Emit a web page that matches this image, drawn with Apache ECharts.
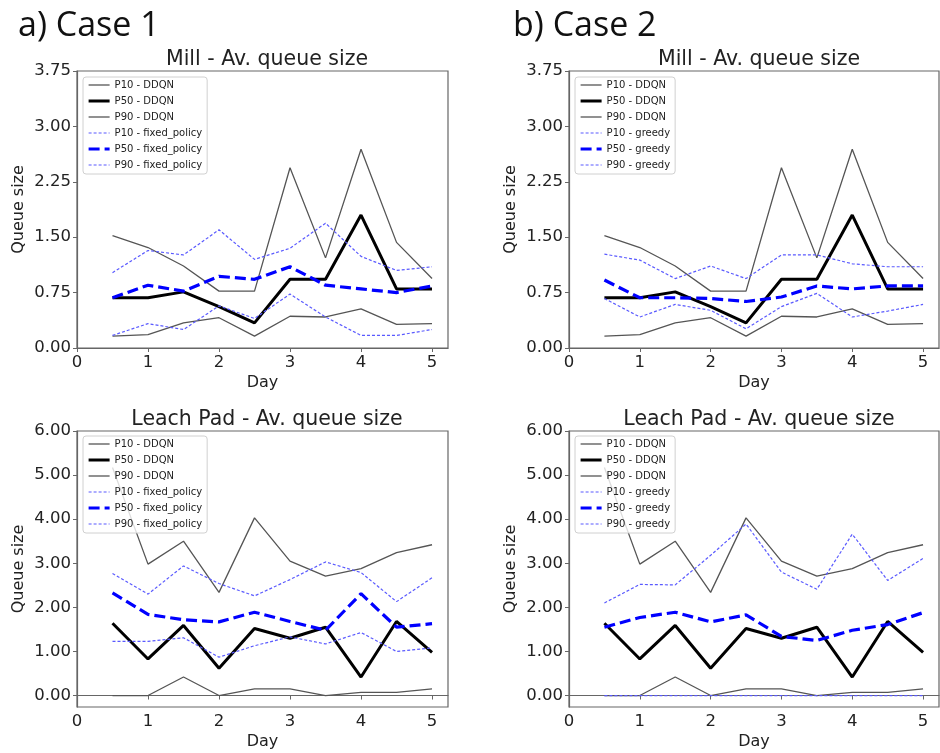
<!DOCTYPE html>
<html>
<head>
<meta charset="utf-8">
<title>Queue size</title>
<script src="https://cdn.jsdelivr.net/npm/echarts@6/dist/echarts.min.js"></script>
<style>
  html, body { margin: 0; padding: 0; background: #fff; }
  #main { width: 940px; height: 753px; }
</style>
</head>
<body>
<div id="main"></div>
<script>
// x positions (days)
var days = [0.5, 1, 1.5, 2, 2.5, 3, 3.5, 4, 4.5, 5];
var xTicks = [0, 1, 2, 3, 4, 5];
var leachTicks = [0, 1, 2, 3, 4, 5, 6];

// Mill - DDQN (same in both cases)
var millP10Ddqn = [0.16, 0.18, 0.34, 0.41, 0.16, 0.43, 0.42, 0.53, 0.32, 0.33];
var millP50Ddqn = [0.68, 0.68, 0.76, 0.56, 0.34, 0.93, 0.93, 1.80, 0.80, 0.80];
var millP90Ddqn = [1.52, 1.36, 1.11, 0.77, 0.77, 2.44, 1.22, 2.69, 1.43, 0.94];
// Mill - fixed policy (case 1)
var millP10Fixed = [0.17, 0.33, 0.25, 0.57, 0.40, 0.73, 0.42, 0.17, 0.17, 0.25];
var millP50Fixed = [0.68, 0.85, 0.77, 0.97, 0.93, 1.10, 0.85, 0.80, 0.75, 0.84];
var millP90Fixed = [1.02, 1.32, 1.26, 1.60, 1.20, 1.35, 1.69, 1.24, 1.05, 1.10];
// Mill - greedy (case 2)
var millP10Greedy = [0.67, 0.42, 0.59, 0.51, 0.26, 0.56, 0.74, 0.42, 0.50, 0.59];
var millP50Greedy = [0.92, 0.68, 0.68, 0.67, 0.63, 0.69, 0.84, 0.80, 0.84, 0.84];
var millP90Greedy = [1.27, 1.19, 0.94, 1.11, 0.94, 1.26, 1.26, 1.14, 1.10, 1.10];

// Leach pad - DDQN
var leachP10Ddqn = [0.00, 0.00, 0.42, 0.00, 0.15, 0.15, 0.00, 0.07, 0.07, 0.15];
var leachP50Ddqn = [1.64, 0.83, 1.59, 0.62, 1.52, 1.30, 1.55, 0.42, 1.68, 0.98];
var leachP90Ddqn = [5.17, 2.98, 3.50, 2.34, 4.03, 3.05, 2.71, 2.88, 3.24, 3.42];
// Leach pad - fixed policy
var leachP10Fixed = [1.23, 1.23, 1.31, 0.87, 1.13, 1.33, 1.17, 1.43, 1.00, 1.08];
var leachP50Fixed = [2.33, 1.84, 1.72, 1.67, 1.89, 1.68, 1.48, 2.31, 1.55, 1.63];
var leachP90Fixed = [2.77, 2.30, 2.94, 2.54, 2.26, 2.63, 3.03, 2.79, 2.13, 2.67];
// Leach pad - greedy
var leachP10Greedy = [0, 0, 0, 0, 0, 0, 0, 0, 0, 0];
var leachP50Greedy = [1.55, 1.77, 1.89, 1.67, 1.83, 1.34, 1.25, 1.48, 1.61, 1.88];
var leachP90Greedy = [2.10, 2.52, 2.51, 3.18, 3.89, 2.80, 2.41, 3.66, 2.61, 3.11];

var FONT = 'DejaVu Sans';
var grids = [
    {left: 77, top: 71, width: 371, height: 277},
    {left: 569, top: 71, width: 370, height: 277},
    {left: 77, top: 431, width: 371, height: 276},
    {left: 569, top: 431, width: 370, height: 276}
];

function pairs(arr) {
    return days.map(function (d, i) { return [d, arr[i]]; });
}

var styles = {
    ddqnThin: {color: '#555555', width: 1.3, type: 'solid'},
    ddqnMid: {color: '#000000', width: 3, type: 'solid'},
    polThin: {color: '#5a5aff', width: 1.2, type: [3, 2]},
    polMid: {color: '#0000ff', width: 3.2, type: [11, 5]}
};
var styleOrder = [styles.ddqnThin, styles.ddqnMid, styles.ddqnThin, styles.polThin, styles.polMid, styles.polThin];

function makeSeries(idx, name, arr, st) {
    return {
        name: name, type: 'line', xAxisIndex: idx, yAxisIndex: idx,
        data: pairs(arr), symbol: 'circle', showSymbol: false, silent: true,
        lineStyle: st, itemStyle: {color: st.color}
    };
}

function names(tag) {
    return ['P10 - DDQN', 'P50 - DDQN', 'P90 - DDQN', 'P10 - ' + tag, 'P50 - ' + tag, 'P90 - ' + tag];
}

function panelSeries(idx, tag, arrs) {
    var n = names(tag);
    return arrs.map(function (a, i) { return makeSeries(idx, n[i], a, styleOrder[i]); });
}

var series = [].concat(
    panelSeries(0, 'fixed_policy', [millP10Ddqn, millP50Ddqn, millP90Ddqn, millP10Fixed, millP50Fixed, millP90Fixed]),
    panelSeries(1, 'greedy', [millP10Ddqn, millP50Ddqn, millP90Ddqn, millP10Greedy, millP50Greedy, millP90Greedy]),
    panelSeries(2, 'fixed_policy', [leachP10Ddqn, leachP50Ddqn, leachP90Ddqn, leachP10Fixed, leachP50Fixed, leachP90Fixed]),
    panelSeries(3, 'greedy', [leachP10Ddqn, leachP50Ddqn, leachP90Ddqn, leachP10Greedy, leachP50Greedy, leachP90Greedy])
);

function legendFor(tag, left, top) {
    return {
        orient: 'vertical', left: left, top: top,
        data: names(tag).map(function (n, i) {
            var st = styleOrder[i];
            return {name: n, lineStyle: {color: st.color, width: st.width, type: st.type, opacity: 1}};
        }),
        itemWidth: 21, itemHeight: 10, itemGap: 4,
        padding: [2, 5, 3, 4],
        borderColor: '#d0d0d0', borderWidth: 1, borderRadius: 3,
        backgroundColor: 'rgba(255,255,255,0.8)',
        selectedMode: false,
        itemStyle: {opacity: 0, borderWidth: 0},
        textStyle: {fontFamily: FONT, fontSize: 10, color: '#222', lineHeight: 12}
    };
}

var axisCommon = {
    axisLine: {show: true, lineStyle: {color: '#666', width: 1.2}},
    axisTick: {show: true, length: 4, lineStyle: {color: '#666', width: 1}},
    splitLine: {show: false}
};

function xAxisFor(idx) {
    return Object.assign({}, axisCommon, {
        type: 'value', gridIndex: idx, min: 0, max: 5.225,
        name: 'Day', nameLocation: 'middle', nameGap: 27,
        nameTextStyle: {fontFamily: FONT, fontSize: 16, color: '#222'},
        axisTick: {show: true, length: 4, lineStyle: {color: '#666'}, customValues: xTicks},
        axisLabel: {customValues: xTicks, margin: 6, fontFamily: FONT, fontSize: 16.5, color: '#222',
            formatter: function (v) { return String(v); }}
    });
}

function yAxisFor(idx, leach) {
    var ax = Object.assign({}, axisCommon, {
        type: 'value', gridIndex: idx,
        name: 'Queue size', nameLocation: 'middle', nameGap: 50, nameRotate: 90,
        nameTextStyle: {fontFamily: FONT, fontSize: 16, color: '#222'},
        axisLabel: {margin: 6, fontFamily: FONT, fontSize: 16.5, color: '#222',
            formatter: function (v) { return v.toFixed(2); }}
    });
    if (leach) {
        ax.min = -0.26;
        ax.max = 6;
        ax.axisLabel.customValues = leachTicks;
        ax.axisTick = {show: true, length: 4, lineStyle: {color: '#666'}, customValues: leachTicks};
    } else {
        ax.min = 0;
        ax.max = 3.75;
        ax.interval = 0.75;
    }
    return ax;
}

var panelTitle = {fontFamily: FONT, fontSize: 20.5, fontWeight: 'normal', color: '#222'};
var caseTitle = {fontFamily: 'Open Sans', fontSize: 34, fontWeight: 'normal', color: '#111'};

var option = {
    animation: false,
    backgroundColor: '#fff',
    title: [
        {text: 'a) Case 1', left: 13, top: 4, textStyle: caseTitle},
        {text: 'b) Case 2', left: 508, top: 4, textStyle: caseTitle},
        {text: 'Mill - Av. queue size', left: 262, top: 44, textAlign: 'center', textStyle: panelTitle},
        {text: 'Mill - Av. queue size', left: 754, top: 44, textAlign: 'center', textStyle: panelTitle},
        {text: 'Leach Pad - Av. queue size', left: 262, top: 404, textAlign: 'center', textStyle: panelTitle},
        {text: 'Leach Pad - Av. queue size', left: 754, top: 404, textAlign: 'center', textStyle: panelTitle}
    ],
    grid: grids.map(function (g) {
        return Object.assign({show: true, borderColor: '#666', borderWidth: 1.2, backgroundColor: '#fff', containLabel: false}, g);
    }),
    legend: [
        legendFor('fixed_policy', 83, 77),
        legendFor('greedy', 575, 77),
        legendFor('fixed_policy', 83, 436),
        legendFor('greedy', 575, 436)
    ],
    xAxis: [xAxisFor(0), xAxisFor(1), xAxisFor(2), xAxisFor(3)],
    yAxis: [yAxisFor(0, false), yAxisFor(1, false), yAxisFor(2, true), yAxisFor(3, true)],
    series: series
};

var myChart = echarts.init(document.getElementById('main'), null, {renderer: 'canvas'});
myChart.setOption(option);
</script>
</body>
</html>
